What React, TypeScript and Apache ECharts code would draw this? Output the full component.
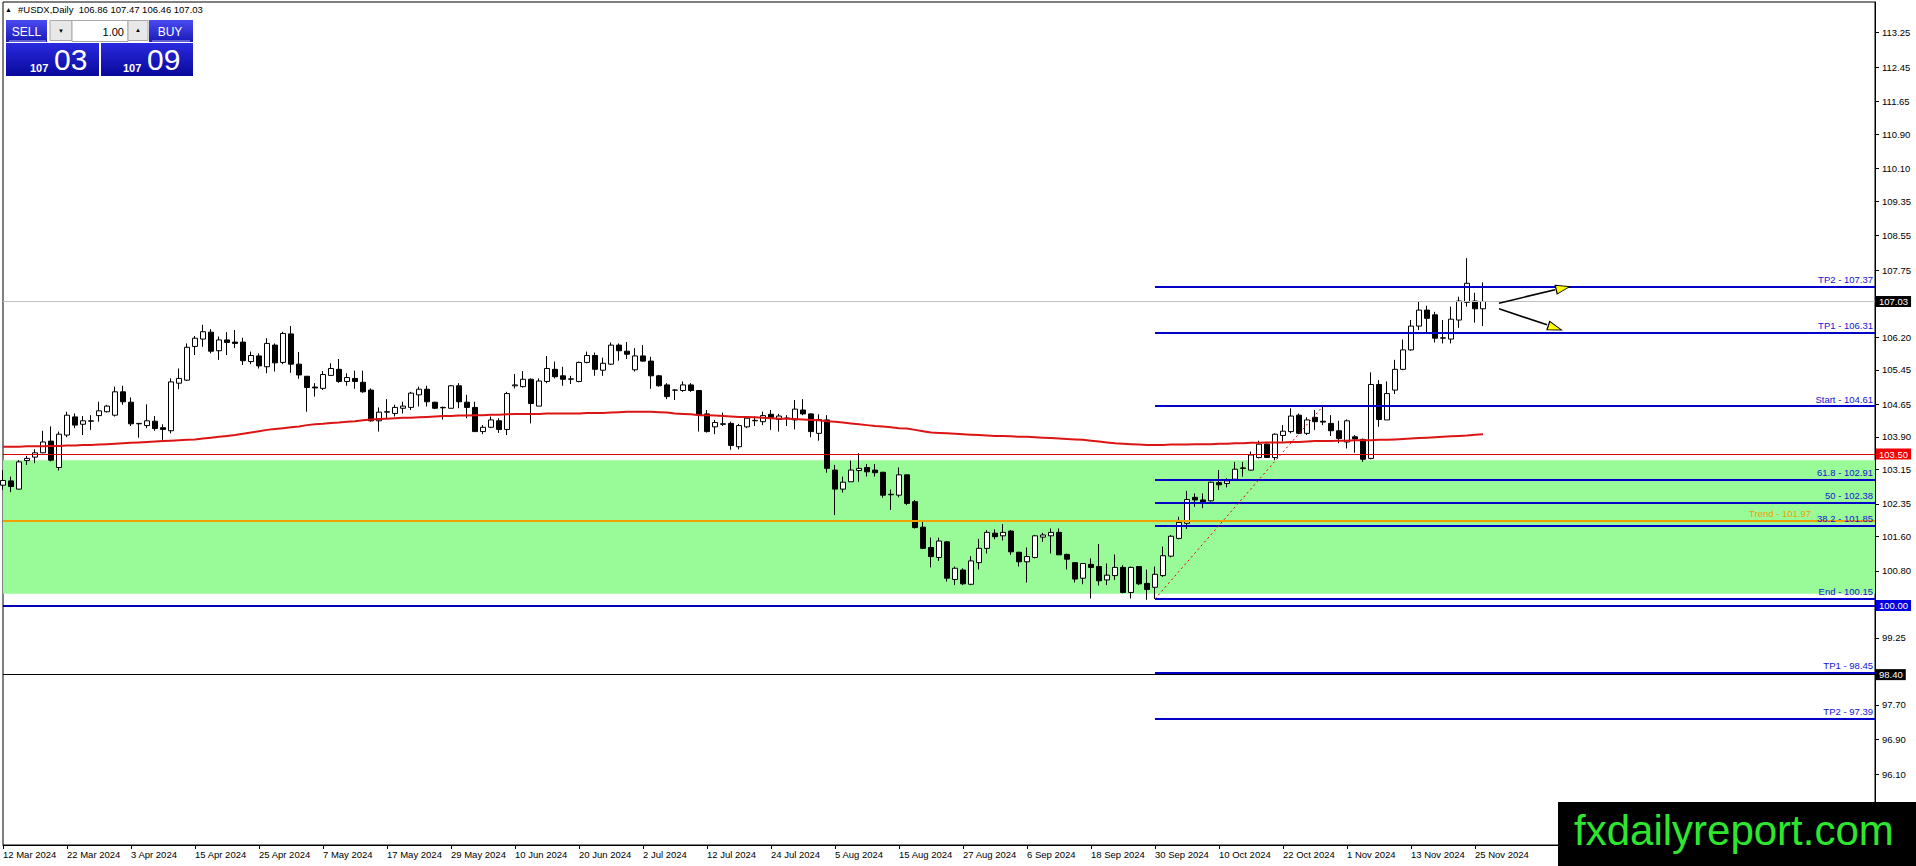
import { useEffect, useRef } from 'react'
import * as echarts from 'echarts'

const FONT = '"Liberation Sans", Arial, sans-serif'

// bars start on Tue 12 Mar 2024, weekdays only; 235 slots incl. empty space on the right
const START_DAY = Date.UTC(2024, 2, 12)
const SLOT_COUNT = 235
const MONTHS = ['Jan', 'Feb', 'Mar', 'Apr', 'May', 'Jun', 'Jul', 'Aug', 'Sep', 'Oct', 'Nov', 'Dec']

const dateTicks = [
  '12 Mar 2024', '22 Mar 2024', '3 Apr 2024', '15 Apr 2024', '25 Apr 2024', '7 May 2024',
  '17 May 2024', '29 May 2024', '10 Jun 2024', '20 Jun 2024', '2 Jul 2024', '12 Jul 2024',
  '24 Jul 2024', '5 Aug 2024', '15 Aug 2024', '27 Aug 2024', '6 Sep 2024', '18 Sep 2024',
  '30 Sep 2024', '10 Oct 2024', '22 Oct 2024', '1 Nov 2024', '13 Nov 2024', '25 Nov 2024'
]

const priceTicks = [
  113.25, 112.45, 111.65, 110.9, 110.1, 109.35, 108.55, 107.75, 106.2, 105.45,
  104.65, 103.9, 103.15, 102.35, 101.6, 100.8, 99.25, 97.7, 96.9, 96.1
]

const opens = [
  102.78, 102.88, 102.69, 103.35, 103.43, 103.53, 103.80, 103.19, 103.94, 104.36,
  104.19, 104.26, 104.39, 104.48, 104.40, 104.94, 104.70, 104.20, 104.16, 104.26,
  104.11, 104.04, 105.14, 105.21, 105.99, 106.16, 106.32, 105.89, 106.14, 106.09,
  106.09, 105.64, 105.77, 105.52, 106.02, 105.62, 106.28, 105.58, 105.30, 105.05,
  105.02, 105.32, 105.46, 105.18, 105.25, 105.16, 104.98, 104.27, 104.47, 104.44,
  104.56, 104.58, 104.87, 105.00, 104.70, 104.58, 104.56, 105.08, 104.70, 104.58,
  104.02, 104.12, 104.27, 104.07, 105.08, 105.06, 105.23, 104.61, 105.18, 105.46,
  105.31, 105.23, 105.18, 105.62, 105.78, 105.44, 105.58, 106.02, 105.88, 105.45,
  105.77, 105.65, 105.31, 105.10, 104.98, 104.97, 105.10, 104.97, 104.43, 104.13,
  104.20, 104.21, 103.67, 104.13, 104.27, 104.25, 104.42, 104.30, 104.33, 104.29,
  104.52, 104.43, 103.98, 104.29, 103.13, 102.69, 102.86, 103.12, 103.19, 103.13,
  103.08, 102.56, 102.55, 103.02, 102.40, 101.81, 101.34, 101.11, 101.47, 100.60,
  100.82, 100.49, 100.99, 101.32, 101.67, 101.61, 101.72, 101.23, 101.01, 101.11,
  101.58, 101.61, 101.69, 101.18, 100.99, 100.63, 100.95, 100.90, 100.59, 100.69,
  100.88, 100.30, 100.90, 100.51, 100.42, 100.69, 101.14, 101.55, 101.90, 102.50,
  102.44, 102.42, 102.84, 102.82, 102.92, 103.17, 103.13, 103.42, 103.73, 103.42,
  103.93, 104.02, 104.40, 103.98, 104.35, 104.26, 104.21, 104.04, 103.78, 103.90,
  103.84, 103.40, 105.11, 104.29, 104.98, 105.46, 105.91, 106.46, 106.83, 106.72,
  106.18, 106.16, 106.60, 107.01, 107.04, 106.86
]

const highs = [
  103.13, 102.98, 103.36, 103.46, 103.61, 104.04, 104.14, 104.02, 104.48, 104.44,
  104.38, 104.40, 104.71, 104.64, 105.06, 105.08, 104.81, 104.21, 104.65, 104.38,
  104.19, 105.25, 105.48, 106.06, 106.23, 106.49, 106.39, 106.22, 106.32, 106.37,
  106.19, 105.87, 105.83, 106.18, 106.06, 106.33, 106.46, 105.86, 105.30, 105.14,
  105.42, 105.60, 105.70, 105.37, 105.43, 105.43, 105.02, 104.58, 104.77, 104.64,
  104.71, 104.94, 105.06, 105.08, 104.71, 104.60, 105.10, 105.14, 104.87, 104.71,
  104.17, 104.37, 104.33, 104.94, 105.35, 105.42, 105.25, 105.25, 105.77, 105.64,
  105.52, 105.31, 105.64, 105.87, 105.85, 105.73, 106.08, 106.06, 106.09, 105.95,
  106.02, 105.75, 105.33, 105.14, 105.00, 105.18, 105.14, 104.97, 104.52, 104.29,
  104.46, 104.25, 104.20, 104.35, 104.37, 104.48, 104.52, 104.43, 104.40, 104.75,
  104.77, 104.44, 104.42, 104.40, 103.25, 102.98, 103.35, 103.52, 103.27, 103.27,
  103.09, 102.68, 103.19, 103.03, 102.44, 101.94, 101.57, 101.57, 101.49, 100.90,
  100.86, 101.14, 101.54, 101.74, 101.76, 101.88, 101.74, 101.24, 101.34, 101.63,
  101.68, 101.78, 101.78, 101.20, 100.99, 100.97, 101.09, 101.42, 100.97, 101.18,
  100.93, 100.90, 100.91, 100.83, 100.90, 101.36, 101.63, 102.05, 102.65, 102.59,
  102.59, 102.86, 103.13, 102.94, 103.32, 103.32, 103.56, 103.81, 103.75, 103.98,
  104.17, 104.56, 104.44, 104.35, 104.52, 104.61, 104.40, 104.27, 104.30, 103.94,
  103.86, 105.39, 105.21, 105.18, 105.68, 106.15, 106.60, 107.04, 106.93, 106.79,
  106.60, 106.91, 107.14, 108.03, 107.23, 107.47
]

const lows = [
  102.67, 102.62, 102.68, 103.25, 103.29, 103.52, 103.33, 103.12, 103.89, 104.10,
  103.94, 104.06, 104.25, 104.46, 104.37, 104.64, 104.15, 103.88, 104.10, 104.04,
  103.83, 103.98, 105.00, 105.19, 105.79, 105.98, 105.83, 105.68, 105.79, 105.95,
  105.56, 105.58, 105.48, 105.37, 105.41, 105.58, 105.38, 105.24, 104.48, 104.83,
  104.98, 105.31, 105.15, 105.08, 105.01, 104.92, 104.25, 104.02, 104.33, 104.37,
  104.44, 104.52, 104.60, 104.60, 104.54, 104.30, 104.56, 104.56, 104.33, 104.02,
  103.96, 104.10, 103.99, 103.94, 105.02, 105.04, 104.21, 104.61, 105.14, 105.25,
  105.08, 105.12, 105.16, 105.60, 105.31, 105.31, 105.56, 105.66, 105.70, 105.41,
  105.64, 105.01, 105.06, 104.77, 104.75, 104.94, 104.94, 104.02, 104.00, 103.96,
  104.15, 103.60, 103.61, 104.10, 104.15, 104.17, 104.06, 104.02, 104.15, 104.07,
  104.40, 103.89, 103.81, 103.07, 102.09, 102.61, 102.86, 102.86, 102.98, 102.98,
  102.49, 102.21, 102.50, 102.32, 101.78, 101.30, 100.88, 101.03, 100.55, 100.47,
  100.47, 100.47, 100.83, 101.20, 101.53, 101.50, 101.17, 100.90, 100.53, 101.09,
  101.47, 101.20, 101.17, 100.83, 100.53, 100.49, 100.16, 100.46, 100.47, 100.59,
  100.28, 100.16, 100.47, 100.13, 100.15, 100.66, 101.11, 101.53, 101.77, 102.28,
  102.25, 102.40, 102.67, 102.73, 102.92, 102.98, 103.12, 103.40, 103.42, 103.36,
  103.79, 103.98, 103.96, 103.94, 104.06, 104.17, 103.92, 103.75, 103.63, 103.53,
  103.32, 103.38, 104.13, 104.29, 104.89, 105.44, 105.89, 106.37, 106.29, 106.08,
  106.06, 106.06, 106.42, 106.91, 106.54, 106.46
]

const closes = [
  102.89, 102.75, 103.32, 103.40, 103.53, 103.78, 103.36, 103.96, 104.40, 104.17,
  104.27, 104.27, 104.50, 104.61, 104.94, 104.71, 104.20, 104.21, 104.27, 104.09,
  104.07, 105.17, 105.25, 105.97, 106.18, 106.33, 105.88, 106.14, 106.08, 106.06,
  105.66, 105.78, 105.54, 106.06, 105.61, 106.29, 105.58, 105.33, 105.04, 105.03,
  105.34, 105.48, 105.18, 105.27, 105.18, 104.94, 104.27, 104.47, 104.48, 104.58,
  104.61, 104.91, 105.00, 104.71, 104.56, 104.57, 105.08, 104.71, 104.58, 104.02,
  104.12, 104.29, 104.07, 104.90, 105.10, 105.23, 104.67, 105.19, 105.48, 105.29,
  105.23, 105.24, 105.62, 105.78, 105.46, 105.60, 106.02, 105.89, 105.81, 105.77,
  105.65, 105.31, 105.08, 104.83, 104.98, 105.10, 104.97, 104.40, 104.02, 104.23,
  104.19, 103.70, 104.16, 104.33, 104.28, 104.39, 104.35, 104.38, 104.33, 104.54,
  104.43, 104.02, 104.30, 103.17, 102.69, 102.85, 103.13, 103.17, 103.09, 103.07,
  102.55, 102.57, 103.02, 102.36, 101.80, 101.32, 101.13, 101.49, 100.63, 100.86,
  100.50, 101.03, 101.32, 101.69, 101.59, 101.69, 101.24, 101.01, 101.13, 101.61,
  101.63, 101.69, 101.17, 101.07, 100.61, 100.97, 100.88, 100.57, 100.70, 100.88,
  100.30, 100.88, 100.50, 100.37, 100.72, 101.15, 101.60, 101.92, 102.45, 102.44,
  102.38, 102.85, 102.79, 102.88, 103.15, 103.18, 103.48, 103.73, 103.42, 103.96,
  104.03, 104.38, 103.98, 104.29, 104.25, 104.24, 104.04, 103.86, 104.27, 103.85,
  103.38, 105.11, 104.30, 104.90, 105.46, 105.91, 106.46, 106.83, 106.64, 106.18,
  106.19, 106.62, 107.04, 107.45, 106.86, 107.03
]

// red moving average
const movingAvg = [
  103.67, 103.67, 103.67, 103.68, 103.68, 103.68, 103.69, 103.69, 103.70, 103.70,
  103.71, 103.71, 103.72, 103.73, 103.74, 103.75, 103.76, 103.77, 103.78, 103.79,
  103.80, 103.81, 103.82, 103.83, 103.84, 103.86, 103.88, 103.90, 103.92, 103.94,
  103.97, 104.00, 104.03, 104.06, 104.08, 104.10, 104.12, 104.14, 104.17, 104.19,
  104.20, 104.22, 104.23, 104.25, 104.26, 104.28, 104.30, 104.31, 104.32, 104.33,
  104.34, 104.34, 104.35, 104.36, 104.37, 104.38, 104.38, 104.39, 104.39, 104.40,
  104.40, 104.41, 104.41, 104.42, 104.43, 104.43, 104.43, 104.43, 104.44, 104.44,
  104.44, 104.44, 104.44, 104.45, 104.45, 104.45, 104.46, 104.47, 104.48, 104.48,
  104.48, 104.48, 104.47, 104.46, 104.44, 104.43, 104.42, 104.40, 104.40, 104.39,
  104.38, 104.37, 104.36, 104.36, 104.35, 104.34, 104.33, 104.32, 104.32, 104.31,
  104.30, 104.29, 104.28, 104.26, 104.25, 104.23, 104.21, 104.19, 104.17, 104.15,
  104.14, 104.12, 104.10, 104.09, 104.06, 104.03, 104.00, 103.99, 103.98, 103.97,
  103.96, 103.95, 103.94, 103.93, 103.92, 103.92, 103.91, 103.90, 103.90, 103.89,
  103.88, 103.87, 103.86, 103.85, 103.84, 103.83, 103.81, 103.79, 103.77, 103.75,
  103.74, 103.73, 103.72, 103.71, 103.71, 103.71, 103.72, 103.72, 103.72, 103.73,
  103.73, 103.73, 103.74, 103.74, 103.75, 103.75, 103.76, 103.76, 103.77, 103.77,
  103.77, 103.78, 103.78, 103.79, 103.80, 103.80, 103.80, 103.81, 103.81, 103.82,
  103.82, 103.82, 103.83, 103.83, 103.84, 103.85, 103.86, 103.87, 103.88, 103.89,
  103.90, 103.91, 103.92, 103.93, 103.95, 103.96
]

// horizontal levels
const currentPrice = 107.03
const redLevel = 103.5
const roundLevel = 100.0
const lowLevel = 98.4
const trendLevel = 101.97
const zoneTop = 103.36
const zoneBottom = 100.27

// fibo expansion drawn from the 30 Sep low
const fibFrom = 144
const fibNames = ['TP2', 'TP1', 'Start', '61.8', '50', '38.2', 'End', 'TP1', 'TP2']
const fibValues = [107.37, 106.31, 104.61, 102.91, 102.38, 101.85, 100.15, 98.45, 97.39]
const fibSwing = [[144, 100.15], [165, 104.61]]

// two arrows after the last bar: [start, line end, head]
const arrowUp = [[187, 106.99], [194, 107.3], [195, 107.34]]
const arrowDown = [[187, 106.86], [193, 106.49], [194, 106.42]]

function buildSlots() {
  const out: string[] = []
  const d = new Date(START_DAY)
  while (out.length < SLOT_COUNT) {
    const wd = d.getUTCDay()
    if (wd !== 0 && wd !== 6) {
      out.push(`${d.getUTCDate()} ${MONTHS[d.getUTCMonth()]} ${d.getUTCFullYear()}`)
    }
    d.setUTCDate(d.getUTCDate() + 1)
  }
  return out
}

function blue(top: string, bottom: string) {
  return new echarts.graphic.LinearGradient(0, 0, 0, 1, [
    { offset: 0, color: top },
    { offset: 1, color: bottom }
  ])
}

function txt(text: string, x: number, y: number, size: number, fill: string, extra: any = {}) {
  return {
    type: 'text',
    x,
    y,
    z: 100,
    silent: true,
    style: {
      text,
      fill,
      fontSize: size,
      fontFamily: FONT,
      textAlign: 'left',
      textVerticalAlign: 'middle',
      ...extra
    }
  }
}

function rect(x: number, y: number, w: number, h: number, fill: any, stroke?: string) {
  return {
    type: 'rect',
    z: 100,
    silent: true,
    shape: { x, y, width: w, height: h },
    style: { fill, stroke: stroke || 'none', lineWidth: 1 }
  }
}

export default function App() {
  const chartRef = useRef<HTMLDivElement>(null)

  useEffect(() => {
    if (!chartRef.current) return
    const chart = echarts.init(chartRef.current, null, { renderer: 'svg' })

    const slots = buildSlots()
    const lastBar = opens.length - 1
    const lastSlot = SLOT_COUNT - 1
    const candles = opens.map((o, i) => [o, closes[i], lows[i], highs[i]])
    const showTick = (i: number) => i % 8 === 0 && i <= lastBar

    const tag = (text: string, bg: string) => ({
      show: true,
      position: 'end',
      formatter: text,
      distance: 1,
      backgroundColor: bg,
      color: '#fff',
      padding: [1, 3, 0, 3],
      fontSize: 9.5,
      fontFamily: FONT
    })

    const fullLines = [
      { yAxis: currentPrice, lineStyle: { color: '#c0c0c0', width: 1, type: 'solid' }, label: tag(currentPrice.toFixed(2), '#000') },
      { yAxis: redLevel, lineStyle: { color: '#e00000', width: 1, type: 'solid' }, label: tag(redLevel.toFixed(2), '#f00000') },
      { yAxis: roundLevel, lineStyle: { color: '#0000b4', width: 2, type: 'solid' }, label: tag(roundLevel.toFixed(2), '#0000e0') },
      { yAxis: lowLevel, lineStyle: { color: '#000', width: 1, type: 'solid' }, label: tag(lowLevel.toFixed(2), '#000') },
      {
        yAxis: trendLevel,
        lineStyle: { color: '#f0a000', width: 2, type: 'solid' },
        label: {
          show: true, position: 'insideEndTop', formatter: `Trend - ${trendLevel.toFixed(2)}`,
          color: '#f0a000', fontSize: 9.5, fontFamily: FONT, distance: 2,
          // keep it clear of the 38.2 label that sits just below
          padding: [0, 62, 0, 0]
        }
      }
    ]

    const fibLines = fibValues.map((v, k) => [
      {
        coord: [fibFrom, v],
        lineStyle: { color: '#0000c8', width: 2, type: 'solid' },
        label: {
          show: true, position: 'insideEndTop', formatter: `${fibNames[k]} - ${v.toFixed(2)}`,
          color: '#1414d2', fontSize: 9.5, fontFamily: FONT, distance: 2
        }
      },
      { coord: [lastSlot, v] }
    ])

    const plainLine = (a: number[], b: number[], style: any) => [
      { coord: a, lineStyle: style, label: { show: false } },
      { coord: b }
    ]

    const head = (p: number[], rot: number) => ({
      coord: p,
      symbol: 'triangle',
      symbolSize: [9, 14],
      symbolRotate: rot,
      itemStyle: { color: '#ffff00', borderColor: '#000', borderWidth: 1 },
      label: { show: false }
    })

    const option = {
      animation: false,
      backgroundColor: '#fff',
      textStyle: { fontFamily: FONT },
      grid: {
        left: 2, top: 2, right: 41, bottom: 21,
        show: true, borderColor: '#000', borderWidth: 1, backgroundColor: '#fff'
      },
      xAxis: {
        type: 'category',
        data: slots,
        boundaryGap: false,
        axisLine: { lineStyle: { color: '#000', width: 1 } },
        axisTick: { show: true, interval: showTick, length: 4, lineStyle: { color: '#000' } },
        axisLabel: {
          interval: showTick,
          formatter: (_v: string, i: number) => dateTicks[i / 8] || '',
          align: 'left',
          margin: 4,
          color: '#000',
          fontSize: 9.5,
          fontFamily: FONT
        },
        splitLine: { show: false }
      },
      yAxis: {
        type: 'value',
        position: 'right',
        min: 94.46,
        max: 113.955,
        axisLine: { show: true, lineStyle: { color: '#000', width: 1 } },
        axisTick: { show: true, length: 4, customValues: priceTicks, lineStyle: { color: '#000' } },
        axisLabel: {
          customValues: priceTicks,
          formatter: (v: number) => v.toFixed(2),
          margin: 7,
          color: '#000',
          fontSize: 9.5,
          fontFamily: FONT
        },
        splitLine: { show: false }
      },
      series: [
        {
          name: 'zone',
          type: 'line',
          data: movingAvg,
          symbol: 'none',
          silent: true,
          z: 1,
          lineStyle: { opacity: 0 },
          markArea: {
            silent: true,
            itemStyle: { color: '#98fb98' },
            data: [[{ yAxis: zoneTop }, { yAxis: zoneBottom }]]
          }
        },
        {
          name: '#USDX',
          type: 'candlestick',
          data: candles,
          barWidth: 5,
          z: 2,
          itemStyle: {
            color: '#fff',
            color0: '#000',
            borderColor: '#000',
            borderColor0: '#000',
            borderColorDoji: '#000',
            borderWidth: 1
          }
        },
        {
          name: 'levels',
          type: 'line',
          data: movingAvg,
          symbol: 'none',
          silent: true,
          z: 3,
          lineStyle: { opacity: 0 },
          markLine: {
            silent: true,
            symbol: ['none', 'none'],
            data: [
              ...fullLines,
              ...fibLines,
              plainLine(fibSwing[0], fibSwing[1], { color: '#e00000', width: 1, type: [2, 3] }),
              plainLine(arrowUp[0], arrowUp[1], { color: '#000', width: 1.6, type: 'solid' }),
              plainLine(arrowDown[0], arrowDown[1], { color: '#000', width: 1.6, type: 'solid' })
            ]
          },
          markPoint: {
            silent: true,
            data: [head(arrowUp[2], -77), head(arrowDown[2], -108)]
          }
        },
        {
          name: 'MA',
          type: 'line',
          data: movingAvg,
          symbol: 'none',
          silent: true,
          z: 4,
          lineStyle: { color: '#dc1414', width: 2 }
        }
      ],
      graphic: {
        elements: [
          // header
          txt('\u25B2', 5, 9, 7, '#000'),
          txt('#USDX,Daily  106.86 107.47 106.46 107.03', 18, 9.5, 9.5, '#000'),
          // one click trading panel
          rect(6, 20, 41, 22, blue('#4a4af2', '#1a1ab8')),
          { type: 'line', z: 101, silent: true, shape: { x1: 9, y1: 41, x2: 46, y2: 41 }, style: { stroke: '#a8a8f0', lineWidth: 1 } },
          txt('SELL', 26.5, 32, 12, '#fff', { textAlign: 'center', fontFamily: '"Liberation Sans Narrow", ' + FONT }),
          rect(50, 20.5, 22, 20, '#e8e8e8', '#a8a8a8'),
          rect(72, 20.5, 56, 21, '#fff', '#a8a8a8'),
          rect(128, 20.5, 20, 20, '#e8e8e8', '#a8a8a8'),
          txt('\u25BC', 61, 31, 6, '#000', { textAlign: 'center' }),
          txt('\u25B2', 138, 30, 6, '#000', { textAlign: 'center' }),
          txt('1.00', 124, 31.5, 11, '#000', { textAlign: 'right' }),
          rect(149, 20, 44, 22, blue('#4a4af2', '#1a1ab8')),
          { type: 'line', z: 101, silent: true, shape: { x1: 152, y1: 41, x2: 190, y2: 41 }, style: { stroke: '#a8a8f0', lineWidth: 1 } },
          txt('BUY', 170, 32, 12, '#fff', { textAlign: 'center', fontFamily: '"Liberation Sans Narrow", ' + FONT }),
          rect(6, 43, 93, 33, blue('#2a2ae0', '#08089a')),
          rect(101, 43, 92, 33, blue('#2a2ae0', '#08089a')),
          txt('107', 30, 68, 11, '#fff', { fontWeight: 'bold' }),
          txt('03', 54, 59.5, 30, '#fff'),
          txt('107', 123, 68, 11, '#fff', { fontWeight: 'bold' }),
          txt('09', 147, 59.5, 30, '#fff'),
          // watermark box
          rect(1558, 802, 358, 64, '#000'),
          txt('fxdailyreport.com', 1574, 830.5, 42, '#2ee62e')
        ]
      }
    }

    chart.setOption(option as any)

    return () => {
      chart.dispose()
    }
  }, [])

  return (
    <div
      ref={chartRef}
      style={{ position: 'fixed', left: 0, top: 0, width: 1916, height: 866, background: '#fff' }}
    />
  )
}
